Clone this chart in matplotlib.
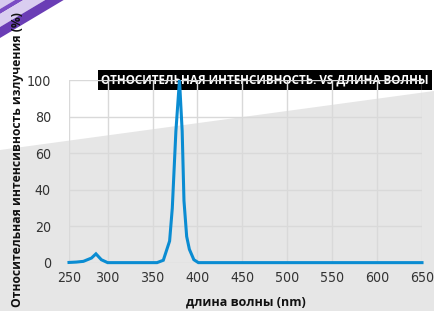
import matplotlib
matplotlib.use("Agg")
import matplotlib.pyplot as plt
from matplotlib.patches import Polygon

# spectrum
wavelength = [257, 265, 273, 282, 287, 293, 300, 355, 362, 369, 372, 376,
              380, 383, 385, 388, 391, 396, 401, 650]
intensity = [0.3, 0.5, 0.9, 2.7, 5.0, 1.8, 0.2, 0.2, 1.5, 12, 30, 72,
             100, 72, 34, 14.5, 7.5, 1.8, 0.2, 0.2]

x_ticks = [257, 300, 350, 400, 450, 500, 550, 600, 650]
x_labels = ["250", "300", "350", "400", "450", "500", "550", "600", "650"]
y_ticks = [0, 20, 40, 60, 80, 100]

title = "ОТНОСИТЕЛЬНАЯ ИНТЕНСИВНОСТЬ. VS ДЛИНА ВОЛНЫ"
y_title = "Относительная интенсивность излучения (%)"
x_title = "длина волны (nm)"

W, H = 434, 311
fig = plt.figure(figsize=(W / 100, H / 100), dpi=100)
fig.patch.set_facecolor("white")


def px(x, y):
    return (x / W, 1 - y / H)


# page background: grey wedge and purple corner stripes
fig.patches.append(Polygon([px(0, 150), px(W, 91), px(W, H), px(0, H)],
                           closed=True, transform=fig.transFigure,
                           facecolor="#e6e6e6", edgecolor="none", zorder=-3))
for y0, y1, col in [(0, 9, "#d6c9ef"), (9, 14, "#7a4cc4"),
                    (14, 27, "#d9cdf0"), (27, 38, "#6a3db5")]:
    fig.patches.append(Polygon([px(0, y0), px(y0 / 0.597, 0),
                                px(y1 / 0.597, 0), px(0, y1)],
                               closed=True, transform=fig.transFigure,
                               facecolor=col, edgecolor="none", zorder=-3))

ax = fig.add_axes([69 / W, 1 - 263 / H, (422 - 69) / W, (263 - 80) / H])
ax.set_facecolor("none")
ax.plot(wavelength, intensity, color="#0a8cd2", linewidth=2.2,
        solid_joinstyle="miter", zorder=3, clip_on=False)

ax.set_xlim(257, 650)
ax.set_ylim(0, 100)
ax.set_xticks(x_ticks)
ax.set_xticklabels(x_labels)
ax.set_yticks(y_ticks)
ax.grid(True, color="#d9d9d9", linewidth=1)
for s in ax.spines.values():
    s.set_visible(False)
ax.tick_params(length=0, labelsize=10.2, labelcolor="#333333")
ax.tick_params(axis="y", pad=13)
ax.tick_params(axis="x", pad=6)
for lab in ax.get_xticklabels() + ax.get_yticklabels():
    lab.set_family("DejaVu Sans")
    lab.set_fontstretch("condensed")

ax.set_xlabel(x_title, family="Open Sans", fontweight="bold", fontsize=9,
              color="#111111", labelpad=7)
fig.text(18 / W, 1 - 160 / H, y_title, rotation=90, ha="center", va="center",
         family="Open Sans", fontweight="bold", fontsize=8.7, color="#111111")

fig.text(101 / W, 1 - 80 / H, title, ha="left", va="center", color="white",
         family="Open Sans", fontweight="bold", fontsize=8.4, zorder=-1,
         bbox=dict(facecolor="black", edgecolor="none", pad=2.5))

fig.savefig("out.png", dpi=100)
